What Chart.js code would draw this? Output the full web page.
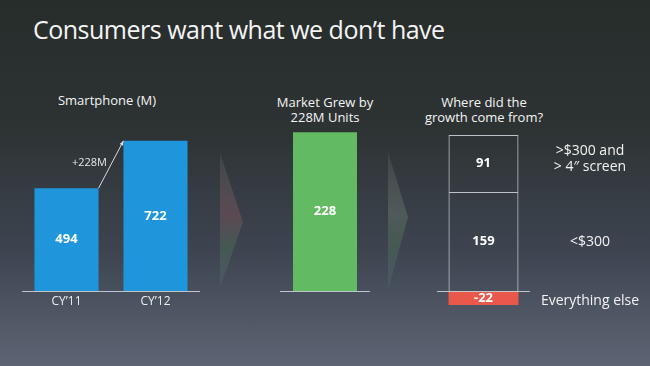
<!DOCTYPE html>
<html>
<head>
<meta charset="utf-8">
<script src="https://cdn.jsdelivr.net/npm/chart.js@4.4.1/dist/chart.umd.min.js"></script>
<style>
  html, body { margin: 0; padding: 0; }
  body {
    width: 650px; height: 366px; overflow: hidden; position: relative;
    background: linear-gradient(180deg, #272d2b 0%, #2d3333 35%, #3d4450 68%, #5d6574 100%);
    font-family: "Open Sans", sans-serif; color: #f4f4f4;
  }
  canvas { position: absolute; left: 0; top: 0; }
  .t { position: absolute; white-space: nowrap; text-align: center; line-height: 15px; font-size: 13px; }
  #title { left: 33px; top: 14px; font-size: 25px; line-height: 30px; text-align: left; letter-spacing: -0.5px; }
</style>
</head>
<body>
<div id="title" class="t">Consumers want what we don’t have</div>
<div class="t" style="left:47px; top:93px; width:120px;">Smartphone (M)</div>
<div class="t" style="left:265px; top:95px; width:120px;">Market Grew by<br>228M Units</div>
<div class="t" style="left:414px; top:95px; width:140px;">Where did the<br>growth come from?</div>

<canvas id="left" width="650" height="366"></canvas>
<canvas id="mid" width="650" height="366"></canvas>
<canvas id="right" width="650" height="366"></canvas>

<script>
// data
const years = ["CY’11", "CY’12"];
const units = [494, 722];
const growthLabels = ["Growth"];
const growth = [228];
const segmentNames = [["<$300"], [">$300 and", "> 4″ screen"], ["Everything else"]];
const segmentValues = [159, 91, -22];

const BLUE = '#1f95dc';
const GREEN = '#62bb62';
const RED = '#e8584b';
const LINE = 'rgba(205,210,216,0.9)';

// baseline, value labels, category / segment labels
const slideMarks = {
  id: 'slideMarks',
  afterDatasetsDraw(chart, args, opts) {
    const ctx = chart.ctx;
    const area = chart.chartArea;
    const y0 = Math.round(chart.scales.y.getPixelForValue(0)) + 0.5;
    ctx.save();
    ctx.strokeStyle = LINE;
    ctx.lineWidth = 1;
    ctx.beginPath();
    ctx.moveTo(area.left, y0);
    ctx.lineTo(area.right, y0);
    ctx.stroke();

    ctx.textAlign = 'center';
    ctx.textBaseline = 'middle';
    chart.data.datasets.forEach((ds, i) => {
      chart.getDatasetMeta(i).data.forEach((bar, j) => {
        const p = bar.getProps(['x', 'y', 'base'], true);
        const cy = (p.y + p.base) / 2;
        ctx.fillStyle = '#ffffff';
        ctx.font = 'bold 13px "Open Sans"';
        ctx.fillText(ds.data[j], p.x, cy);
        if (opts.sideLabels) {
          ctx.font = '14px "Open Sans"';
          ctx.fillStyle = '#f2f2f2';
          const lines = ds.side;
          lines.forEach((s, k) => {
            ctx.fillText(s, area.right + opts.sideOffset, cy + (k - (lines.length - 1) / 2) * 16 + opts.sideShift[i]);
          });
        }
      });
    });

    if (opts.categories) {
      ctx.font = '12px "Open Sans"';
      ctx.fillStyle = '#eeeeee';
      chart.data.labels.forEach((l, j) => {
        ctx.fillText(l, chart.scales.x.getPixelForValue(j), y0 + 10);
      });
    }
    ctx.restore();
  }
};

// "+228M" connector between the two bars
const growthArrow = {
  id: 'growthArrow',
  afterDatasetsDraw(chart) {
    const meta = chart.getDatasetMeta(0).data;
    const a = meta[0].getProps(['x', 'y', 'width'], true);
    const b = meta[1].getProps(['x', 'y', 'width'], true);
    const x1 = a.x + a.width / 2, y1 = a.y;
    const x2 = b.x - b.width / 2, y2 = b.y;
    const ctx = chart.ctx;
    ctx.save();
    ctx.strokeStyle = '#d8dbe0';
    ctx.fillStyle = '#d8dbe0';
    ctx.lineWidth = 1;
    ctx.beginPath();
    ctx.moveTo(x1, y1);
    ctx.lineTo(x2, y2);
    ctx.stroke();
    const ang = Math.atan2(y2 - y1, x2 - x1);
    ctx.beginPath();
    ctx.moveTo(x2, y2);
    ctx.lineTo(x2 - 5 * Math.cos(ang - 0.4), y2 - 5 * Math.sin(ang - 0.4));
    ctx.lineTo(x2 - 5 * Math.cos(ang + 0.4), y2 - 5 * Math.sin(ang + 0.4));
    ctx.closePath();
    ctx.fill();
    ctx.font = '11px "Open Sans"';
    ctx.textAlign = 'right';
    ctx.textBaseline = 'middle';
    ctx.fillStyle = '#e6e6e6';
    const diff = units[1] - units[0];
    ctx.fillText('+' + diff + 'M', (x1 + x2) / 2 - 4, (y1 + y2) / 2 - 2);
    ctx.restore();
  }
};

// faint chevrons either side of the middle panel
const chevrons = {
  id: 'chevrons',
  beforeDatasetsDraw(chart) {
    const ctx = chart.ctx;
    const area = chart.chartArea;
    const y0 = chart.scales.y.getPixelForValue(0);
    const tri = (xl, xr, top, tip, bottom, tint) => {
      const g = ctx.createLinearGradient(0, top, 0, bottom);
      g.addColorStop(0, 'rgba(150,150,150,0.14)');
      g.addColorStop(0.45, tint);
      g.addColorStop(0.7, 'rgba(80,125,90,0.38)');
      g.addColorStop(1, 'rgba(110,120,130,0.18)');
      ctx.fillStyle = g;
      ctx.beginPath();
      ctx.moveTo(xl, top);
      ctx.lineTo(xr, tip);
      ctx.lineTo(xl, bottom);
      ctx.closePath();
      ctx.fill();
    };
    ctx.save();
    tri(area.left - 60, area.left - 37, y0 - 138, y0 - 69, y0 - 3, 'rgba(150,90,100,0.38)');
    tri(area.right + 18, area.right + 38, y0 - 139, y0 - 74, y0 - 1, 'rgba(115,135,115,0.38)');
    ctx.restore();
  }
};

const common = {
  responsive: false,
  devicePixelRatio: 1,
  animation: false,
  events: [],
  plugins: { legend: { display: false }, tooltip: { enabled: false }, title: { display: false } }
};

new Chart(document.getElementById('left'), {
  type: 'bar',
  data: {
    labels: years,
    datasets: [{ data: units, backgroundColor: BLUE, barPercentage: 0.72, categoryPercentage: 1 }]
  },
  options: {
    ...common,
    layout: { padding: { left: 22, right: 450, top: 83, bottom: 75 } },
    scales: { x: { display: false }, y: { display: false, min: 0, max: 1000 } },
    plugins: { ...common.plugins, slideMarks: { categories: true } }
  },
  plugins: [slideMarks, growthArrow]
});

new Chart(document.getElementById('mid'), {
  type: 'bar',
  data: {
    labels: growthLabels,
    datasets: [{ data: growth, backgroundColor: GREEN, barPercentage: 0.711, categoryPercentage: 1 }]
  },
  options: {
    ...common,
    layout: { padding: { left: 280, right: 280, top: 82, bottom: 75 } },
    scales: { x: { display: false }, y: { display: false, min: 0, max: 300 } },
    plugins: { ...common.plugins, slideMarks: {} }
  },
  plugins: [chevrons, slideMarks]
});

new Chart(document.getElementById('right'), {
  type: 'bar',
  data: {
    labels: ['Growth'],
    datasets: segmentValues.map((v, i) => ({
      data: [v],
      side: segmentNames[i],
      backgroundColor: v < 0 ? RED : 'rgba(0,0,0,0)',
      borderColor: v < 0 ? RED : LINE,
      borderWidth: v < 0 ? 0 : 1,
      barPercentage: 0.753,
      categoryPercentage: 1
    }))
  },
  options: {
    ...common,
    layout: { padding: { left: 437, right: 120, top: 85, bottom: 56 } },
    scales: { x: { display: false, stacked: true }, y: { display: false, stacked: true, min: -30, max: 330 } },
    plugins: { ...common.plugins, slideMarks: { sideLabels: true, sideOffset: 60, sideShift: [0, -4, 3] } }
  },
  plugins: [slideMarks]
});
</script>
</body>
</html>
